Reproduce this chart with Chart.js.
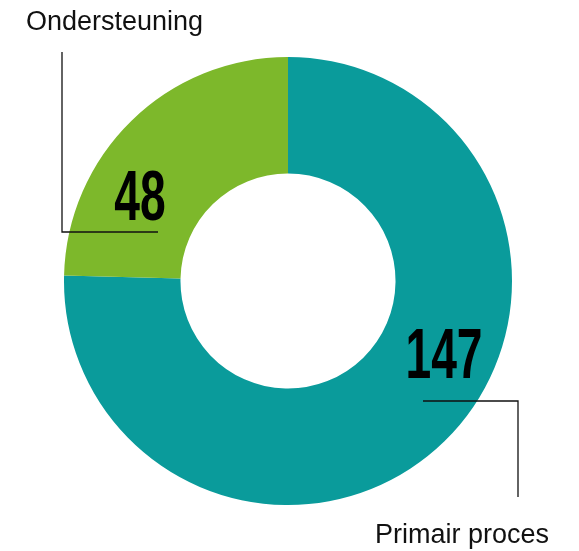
<!DOCTYPE html>
<html>
<head>
<meta charset="utf-8">
<script src="https://cdn.jsdelivr.net/npm/chart.js@4.4.1/dist/chart.umd.min.js"></script>
<style>
  html, body { margin: 0; padding: 0; background: #fff; }
  #wrap { width: 579px; height: 551px; position: relative; }
</style>
</head>
<body>
<div id="wrap"><canvas id="DonutChart"></canvas></div>
<script>
// data
var categorieen = ['Primair proces', 'Ondersteuning'];
var aantallen = [147, 48];
var kleuren = ['#0a9b9b', '#7db82b'];

// labels + leader lines, placed relative to the arc's centre and radius
var labelPlugin = {
  id: 'labelPlugin',
  afterDraw: function (chart) {
    var ctx = chart.ctx;
    var arc = chart.getDatasetMeta(0).data[0];
    var cx = arc.x, cy = arc.y, r = arc.outerRadius;
    var k = r / 224;

    ctx.save();
    // leader lines
    ctx.strokeStyle = '#111';
    ctx.lineWidth = 1.3;
    ctx.beginPath();
    ctx.moveTo(cx - 226 * k, cy - 229 * k);
    ctx.lineTo(cx - 226 * k, cy - 49 * k);
    ctx.lineTo(cx - 130 * k, cy - 49 * k);
    ctx.stroke();
    ctx.beginPath();
    ctx.moveTo(cx + 135 * k, cy + 120 * k);
    ctx.lineTo(cx + 230 * k, cy + 120 * k);
    ctx.lineTo(cx + 230 * k, cy + 216 * k);
    ctx.stroke();

    // category names
    ctx.fillStyle = '#111';
    ctx.font = '27px "Liberation Sans", Arial, sans-serif';
    ctx.textBaseline = 'alphabetic';
    ctx.textAlign = 'left';
    ctx.fillText(categorieen[1], 26, cy - 251 * k);
    ctx.textAlign = 'right';
    ctx.fillText(categorieen[0], 549, cy + 262 * k);

    // values, condensed bold
    ctx.fillStyle = '#000';
    ctx.font = 'bold 70px "Liberation Sans", Arial, sans-serif';
    ctx.textAlign = 'center';
    ctx.textBaseline = 'alphabetic';
    var pos = [[156, 97], [-148, -61]];
    for (var i = 0; i < aantallen.length; i++) {
      ctx.save();
      ctx.translate(cx + pos[i][0] * k, cy + pos[i][1] * k);
      ctx.scale(0.66, 1);
      ctx.fillText(String(aantallen[i]), 0, 0);
      ctx.restore();
    }
    ctx.restore();
  }
};

new Chart(document.getElementById('DonutChart').getContext('2d'), {
  type: 'doughnut',
  data: {
    labels: categorieen,
    datasets: [{
      data: aantallen,
      backgroundColor: kleuren,
      borderWidth: 0,
      hoverOffset: 0
    }]
  },
  options: {
    responsive: true,
    maintainAspectRatio: false,
    animation: false,
    cutout: '48%',
    layout: { padding: { left: 64, right: 67, top: 57, bottom: 46 } },
    events: [],
    plugins: {
      legend: { display: false },
      tooltip: { enabled: false }
    }
  },
  plugins: [labelPlugin]
});
</script>
</body>
</html>
